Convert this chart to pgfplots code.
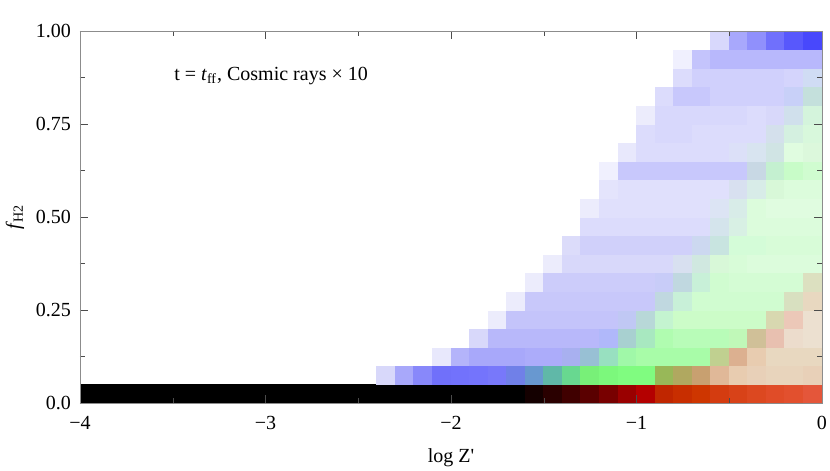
\documentclass[border=0pt]{standalone}
\usepackage{fontspec}
\setmainfont{Liberation Serif}
\usepackage{pgfplots}
\pgfplotsset{compat=1.18}

\begin{document}
\begin{tikzpicture}
\begin{axis}[
  scale only axis, width=371pt, height=186pt,
  xmin=-4, xmax=0, ymin=0, ymax=1,
  axis on top,
  axis line style={black!45},
  tick style={black!70},
  major tick length=4pt, minor tick length=2.5pt,
  tick align=inside, tick pos=both,
  xtick={-4,-3,-2,-1,0}, xticklabels={−4,−3,−2,−1,0},
  minor x tick num=1,
  ytick={0,0.25,0.5,0.75,1}, yticklabels={0.0,0.25,0.50,0.75,1.00},
  minor y tick num=1,
  xticklabel style={yshift=-3pt},
  yticklabel style={xshift=-1pt},
  xlabel={log Z\textquotesingle},
  xlabel style={at={(axis description cs:0.5,-0.148)}, anchor=center},
  ylabel={\textit{f}\textsubscript{H2}},
  ylabel style={at={(axis description cs:-0.0876,0.5)}, anchor=center},
]
\coordinate (bl) at (rel axis cs:0,0);
\coordinate (tr) at (rel axis cs:1,1);
% black part of the lowest row
\addplot[fill=black, draw=none] coordinates {(-4,0) (-2.39,0) (-2.39,0.05) (-4,0.05)} -- cycle;
% bin corners: x from -2.4 to 0 (0.1 wide), y from 0 to 1 (0.05 high);
% each colour belongs to the cell whose lower left corner is (x,y)
\addplot[surf, shader=flat corner, mesh/cols=25, mesh/color input=explicit, point meta=explicit symbolic]
table[meta=c] {
x y c
-2.4 0.00 rgb255=0,0,0
-2.3 0.00 rgb255=0,0,0
-2.2 0.00 rgb255=0,0,0
-2.1 0.00 rgb255=0,0,0
-2.0 0.00 rgb255=0,0,0
-1.9 0.00 rgb255=0,0,0
-1.8 0.00 rgb255=0,0,0
-1.7 0.00 rgb255=0,0,0
-1.6 0.00 rgb255=20,0,0
-1.5 0.00 rgb255=42,0,0
-1.4 0.00 rgb255=64,0,0
-1.3 0.00 rgb255=90,0,0
-1.2 0.00 rgb255=120,0,0
-1.1 0.00 rgb255=154,0,0
-1.0 0.00 rgb255=180,0,0
-0.9 0.00 rgb255=192,38,0
-0.8 0.00 rgb255=200,46,0
-0.7 0.00 rgb255=206,54,0
-0.6 0.00 rgb255=212,60,16
-0.5 0.00 rgb255=216,66,24
-0.4 0.00 rgb255=220,72,32
-0.3 0.00 rgb255=224,76,40
-0.2 0.00 rgb255=226,80,46
-0.1 0.00 rgb255=228,86,58
0.0 0.00 rgb255=255,255,255
-2.4 0.05 rgb255=216,216,250
-2.3 0.05 rgb255=168,168,250
-2.2 0.05 rgb255=136,136,250
-2.1 0.05 rgb255=112,112,250
-2.0 0.05 rgb255=114,114,252
-1.9 0.05 rgb255=116,116,252
-1.8 0.05 rgb255=120,120,250
-1.7 0.05 rgb255=112,128,232
-1.6 0.05 rgb255=104,152,208
-1.5 0.05 rgb255=96,184,168
-1.4 0.05 rgb255=104,216,144
-1.3 0.05 rgb255=120,240,120
-1.2 0.05 rgb255=124,248,124
-1.1 0.05 rgb255=128,252,128
-1.0 0.05 rgb255=128,252,128
-0.9 0.05 rgb255=152,184,88
-0.8 0.05 rgb255=176,168,96
-0.7 0.05 rgb255=200,160,112
-0.6 0.05 rgb255=224,184,152
-0.5 0.05 rgb255=232,204,176
-0.4 0.05 rgb255=232,208,184
-0.3 0.05 rgb255=232,212,188
-0.2 0.05 rgb255=232,212,188
-0.1 0.05 rgb255=232,208,184
0.0 0.05 rgb255=255,255,255
-2.4 0.10 rgb255=255,255,255
-2.3 0.10 rgb255=255,255,255
-2.2 0.10 rgb255=255,255,255
-2.1 0.10 rgb255=232,232,252
-2.0 0.10 rgb255=180,180,250
-1.9 0.10 rgb255=168,168,250
-1.8 0.10 rgb255=168,168,250
-1.7 0.10 rgb255=168,168,250
-1.6 0.10 rgb255=172,172,250
-1.5 0.10 rgb255=172,172,250
-1.4 0.10 rgb255=168,176,240
-1.3 0.10 rgb255=152,192,212
-1.2 0.10 rgb255=152,224,192
-1.1 0.10 rgb255=160,248,168
-1.0 0.10 rgb255=168,252,168
-0.9 0.10 rgb255=168,252,168
-0.8 0.10 rgb255=168,252,168
-0.7 0.10 rgb255=168,252,168
-0.6 0.10 rgb255=192,208,144
-0.5 0.10 rgb255=220,176,144
-0.4 0.10 rgb255=232,204,176
-0.3 0.10 rgb255=232,216,192
-0.2 0.10 rgb255=232,216,192
-0.1 0.10 rgb255=232,216,192
0.0 0.10 rgb255=255,255,255
-2.4 0.15 rgb255=255,255,255
-2.3 0.15 rgb255=255,255,255
-2.2 0.15 rgb255=255,255,255
-2.1 0.15 rgb255=255,255,255
-2.0 0.15 rgb255=255,255,255
-1.9 0.15 rgb255=216,216,250
-1.8 0.15 rgb255=184,184,250
-1.7 0.15 rgb255=184,184,250
-1.6 0.15 rgb255=184,184,250
-1.5 0.15 rgb255=184,184,250
-1.4 0.15 rgb255=184,184,250
-1.3 0.15 rgb255=184,184,250
-1.2 0.15 rgb255=176,184,250
-1.1 0.15 rgb255=168,208,208
-1.0 0.15 rgb255=168,232,192
-0.9 0.15 rgb255=176,252,176
-0.8 0.15 rgb255=184,252,184
-0.7 0.15 rgb255=184,252,184
-0.6 0.15 rgb255=184,252,184
-0.5 0.15 rgb255=192,248,184
-0.4 0.15 rgb255=208,192,152
-0.3 0.15 rgb255=232,192,176
-0.2 0.15 rgb255=236,220,204
-0.1 0.15 rgb255=236,224,208
0.0 0.15 rgb255=255,255,255
-2.4 0.20 rgb255=255,255,255
-2.3 0.20 rgb255=255,255,255
-2.2 0.20 rgb255=255,255,255
-2.1 0.20 rgb255=255,255,255
-2.0 0.20 rgb255=255,255,255
-1.9 0.20 rgb255=255,255,255
-1.8 0.20 rgb255=236,236,252
-1.7 0.20 rgb255=196,196,250
-1.6 0.20 rgb255=196,196,250
-1.5 0.20 rgb255=196,196,250
-1.4 0.20 rgb255=196,196,250
-1.3 0.20 rgb255=196,196,250
-1.2 0.20 rgb255=196,196,250
-1.1 0.20 rgb255=192,200,244
-1.0 0.20 rgb255=184,216,216
-0.9 0.20 rgb255=196,244,208
-0.8 0.20 rgb255=204,252,200
-0.7 0.20 rgb255=204,252,200
-0.6 0.20 rgb255=204,252,200
-0.5 0.20 rgb255=204,252,200
-0.4 0.20 rgb255=204,252,200
-0.3 0.20 rgb255=216,216,176
-0.2 0.20 rgb255=236,200,184
-0.1 0.20 rgb255=236,224,208
0.0 0.20 rgb255=255,255,255
-2.4 0.25 rgb255=255,255,255
-2.3 0.25 rgb255=255,255,255
-2.2 0.25 rgb255=255,255,255
-2.1 0.25 rgb255=255,255,255
-2.0 0.25 rgb255=255,255,255
-1.9 0.25 rgb255=255,255,255
-1.8 0.25 rgb255=255,255,255
-1.7 0.25 rgb255=236,236,252
-1.6 0.25 rgb255=200,200,250
-1.5 0.25 rgb255=200,200,250
-1.4 0.25 rgb255=200,200,250
-1.3 0.25 rgb255=200,200,250
-1.2 0.25 rgb255=200,200,250
-1.1 0.25 rgb255=200,200,250
-1.0 0.25 rgb255=200,200,250
-0.9 0.25 rgb255=192,216,224
-0.8 0.25 rgb255=200,240,216
-0.7 0.25 rgb255=208,252,208
-0.6 0.25 rgb255=208,252,208
-0.5 0.25 rgb255=208,252,208
-0.4 0.25 rgb255=208,252,208
-0.3 0.25 rgb255=208,252,208
-0.2 0.25 rgb255=216,224,192
-0.1 0.25 rgb255=232,216,192
0.0 0.25 rgb255=255,255,255
-2.4 0.30 rgb255=255,255,255
-2.3 0.30 rgb255=255,255,255
-2.2 0.30 rgb255=255,255,255
-2.1 0.30 rgb255=255,255,255
-2.0 0.30 rgb255=255,255,255
-1.9 0.30 rgb255=255,255,255
-1.8 0.30 rgb255=255,255,255
-1.7 0.30 rgb255=255,255,255
-1.6 0.30 rgb255=236,236,252
-1.5 0.30 rgb255=204,204,250
-1.4 0.30 rgb255=204,204,250
-1.3 0.30 rgb255=204,204,250
-1.2 0.30 rgb255=204,204,250
-1.1 0.30 rgb255=204,204,250
-1.0 0.30 rgb255=204,204,250
-0.9 0.30 rgb255=200,204,248
-0.8 0.30 rgb255=192,216,224
-0.7 0.30 rgb255=200,240,216
-0.6 0.30 rgb255=208,252,208
-0.5 0.30 rgb255=212,252,212
-0.4 0.30 rgb255=212,252,212
-0.3 0.30 rgb255=212,252,212
-0.2 0.30 rgb255=212,252,212
-0.1 0.30 rgb255=220,224,192
0.0 0.30 rgb255=255,255,255
-2.4 0.35 rgb255=255,255,255
-2.3 0.35 rgb255=255,255,255
-2.2 0.35 rgb255=255,255,255
-2.1 0.35 rgb255=255,255,255
-2.0 0.35 rgb255=255,255,255
-1.9 0.35 rgb255=255,255,255
-1.8 0.35 rgb255=255,255,255
-1.7 0.35 rgb255=255,255,255
-1.6 0.35 rgb255=255,255,255
-1.5 0.35 rgb255=236,236,252
-1.4 0.35 rgb255=216,216,250
-1.3 0.35 rgb255=216,216,250
-1.2 0.35 rgb255=216,216,250
-1.1 0.35 rgb255=216,216,250
-1.0 0.35 rgb255=216,216,250
-0.9 0.35 rgb255=216,216,250
-0.8 0.35 rgb255=216,224,240
-0.7 0.35 rgb255=208,232,224
-0.6 0.35 rgb255=216,248,216
-0.5 0.35 rgb255=216,252,216
-0.4 0.35 rgb255=220,252,220
-0.3 0.35 rgb255=220,252,220
-0.2 0.35 rgb255=220,252,220
-0.1 0.35 rgb255=220,252,220
0.0 0.35 rgb255=255,255,255
-2.4 0.40 rgb255=255,255,255
-2.3 0.40 rgb255=255,255,255
-2.2 0.40 rgb255=255,255,255
-2.1 0.40 rgb255=255,255,255
-2.0 0.40 rgb255=255,255,255
-1.9 0.40 rgb255=255,255,255
-1.8 0.40 rgb255=255,255,255
-1.7 0.40 rgb255=255,255,255
-1.6 0.40 rgb255=255,255,255
-1.5 0.40 rgb255=255,255,255
-1.4 0.40 rgb255=220,220,250
-1.3 0.40 rgb255=208,208,250
-1.2 0.40 rgb255=208,208,250
-1.1 0.40 rgb255=208,208,250
-1.0 0.40 rgb255=208,208,250
-0.9 0.40 rgb255=208,208,250
-0.8 0.40 rgb255=208,208,250
-0.7 0.40 rgb255=204,216,240
-0.6 0.40 rgb255=200,228,224
-0.5 0.40 rgb255=212,252,216
-0.4 0.40 rgb255=212,252,216
-0.3 0.40 rgb255=216,252,216
-0.2 0.40 rgb255=216,252,216
-0.1 0.40 rgb255=216,252,216
0.0 0.40 rgb255=255,255,255
-2.4 0.45 rgb255=255,255,255
-2.3 0.45 rgb255=255,255,255
-2.2 0.45 rgb255=255,255,255
-2.1 0.45 rgb255=255,255,255
-2.0 0.45 rgb255=255,255,255
-1.9 0.45 rgb255=255,255,255
-1.8 0.45 rgb255=255,255,255
-1.7 0.45 rgb255=255,255,255
-1.6 0.45 rgb255=255,255,255
-1.5 0.45 rgb255=255,255,255
-1.4 0.45 rgb255=255,255,255
-1.3 0.45 rgb255=220,220,252
-1.2 0.45 rgb255=220,220,252
-1.1 0.45 rgb255=220,220,252
-1.0 0.45 rgb255=220,220,252
-0.9 0.45 rgb255=220,220,252
-0.8 0.45 rgb255=220,220,252
-0.7 0.45 rgb255=220,220,252
-0.6 0.45 rgb255=212,228,236
-0.5 0.45 rgb255=216,240,228
-0.4 0.45 rgb255=220,252,220
-0.3 0.45 rgb255=220,252,220
-0.2 0.45 rgb255=220,252,220
-0.1 0.45 rgb255=220,252,220
0.0 0.45 rgb255=255,255,255
-2.4 0.50 rgb255=255,255,255
-2.3 0.50 rgb255=255,255,255
-2.2 0.50 rgb255=255,255,255
-2.1 0.50 rgb255=255,255,255
-2.0 0.50 rgb255=255,255,255
-1.9 0.50 rgb255=255,255,255
-1.8 0.50 rgb255=255,255,255
-1.7 0.50 rgb255=255,255,255
-1.6 0.50 rgb255=255,255,255
-1.5 0.50 rgb255=255,255,255
-1.4 0.50 rgb255=255,255,255
-1.3 0.50 rgb255=236,236,252
-1.2 0.50 rgb255=224,224,252
-1.1 0.50 rgb255=224,224,252
-1.0 0.50 rgb255=224,224,252
-0.9 0.50 rgb255=224,224,252
-0.8 0.50 rgb255=224,224,252
-0.7 0.50 rgb255=224,224,252
-0.6 0.50 rgb255=220,228,244
-0.5 0.50 rgb255=216,236,232
-0.4 0.50 rgb255=220,252,220
-0.3 0.50 rgb255=224,252,224
-0.2 0.50 rgb255=224,252,224
-0.1 0.50 rgb255=224,252,224
0.0 0.50 rgb255=255,255,255
-2.4 0.55 rgb255=255,255,255
-2.3 0.55 rgb255=255,255,255
-2.2 0.55 rgb255=255,255,255
-2.1 0.55 rgb255=255,255,255
-2.0 0.55 rgb255=255,255,255
-1.9 0.55 rgb255=255,255,255
-1.8 0.55 rgb255=255,255,255
-1.7 0.55 rgb255=255,255,255
-1.6 0.55 rgb255=255,255,255
-1.5 0.55 rgb255=255,255,255
-1.4 0.55 rgb255=255,255,255
-1.3 0.55 rgb255=255,255,255
-1.2 0.55 rgb255=228,228,252
-1.1 0.55 rgb255=224,224,252
-1.0 0.55 rgb255=224,224,252
-0.9 0.55 rgb255=224,224,252
-0.8 0.55 rgb255=224,224,252
-0.7 0.55 rgb255=224,224,252
-0.6 0.55 rgb255=224,224,252
-0.5 0.55 rgb255=216,224,240
-0.4 0.55 rgb255=216,236,232
-0.3 0.55 rgb255=216,248,216
-0.2 0.55 rgb255=220,252,220
-0.1 0.55 rgb255=220,252,220
0.0 0.55 rgb255=255,255,255
-2.4 0.60 rgb255=255,255,255
-2.3 0.60 rgb255=255,255,255
-2.2 0.60 rgb255=255,255,255
-2.1 0.60 rgb255=255,255,255
-2.0 0.60 rgb255=255,255,255
-1.9 0.60 rgb255=255,255,255
-1.8 0.60 rgb255=255,255,255
-1.7 0.60 rgb255=255,255,255
-1.6 0.60 rgb255=255,255,255
-1.5 0.60 rgb255=255,255,255
-1.4 0.60 rgb255=255,255,255
-1.3 0.60 rgb255=255,255,255
-1.2 0.60 rgb255=240,240,254
-1.1 0.60 rgb255=200,200,252
-1.0 0.60 rgb255=200,200,252
-0.9 0.60 rgb255=200,200,252
-0.8 0.60 rgb255=200,200,252
-0.7 0.60 rgb255=200,200,252
-0.6 0.60 rgb255=200,200,252
-0.5 0.60 rgb255=200,200,252
-0.4 0.60 rgb255=200,216,228
-0.3 0.60 rgb255=196,240,208
-0.2 0.60 rgb255=200,252,200
-0.1 0.60 rgb255=208,252,208
0.0 0.60 rgb255=255,255,255
-2.4 0.65 rgb255=255,255,255
-2.3 0.65 rgb255=255,255,255
-2.2 0.65 rgb255=255,255,255
-2.1 0.65 rgb255=255,255,255
-2.0 0.65 rgb255=255,255,255
-1.9 0.65 rgb255=255,255,255
-1.8 0.65 rgb255=255,255,255
-1.7 0.65 rgb255=255,255,255
-1.6 0.65 rgb255=255,255,255
-1.5 0.65 rgb255=255,255,255
-1.4 0.65 rgb255=255,255,255
-1.3 0.65 rgb255=255,255,255
-1.2 0.65 rgb255=255,255,255
-1.1 0.65 rgb255=232,232,252
-1.0 0.65 rgb255=220,220,252
-0.9 0.65 rgb255=220,220,252
-0.8 0.65 rgb255=220,220,252
-0.7 0.65 rgb255=220,220,252
-0.6 0.65 rgb255=220,220,252
-0.5 0.65 rgb255=220,224,248
-0.4 0.65 rgb255=216,228,240
-0.3 0.65 rgb255=208,228,228
-0.2 0.65 rgb255=224,252,224
-0.1 0.65 rgb255=220,248,220
0.0 0.65 rgb255=255,255,255
-2.4 0.70 rgb255=255,255,255
-2.3 0.70 rgb255=255,255,255
-2.2 0.70 rgb255=255,255,255
-2.1 0.70 rgb255=255,255,255
-2.0 0.70 rgb255=255,255,255
-1.9 0.70 rgb255=255,255,255
-1.8 0.70 rgb255=255,255,255
-1.7 0.70 rgb255=255,255,255
-1.6 0.70 rgb255=255,255,255
-1.5 0.70 rgb255=255,255,255
-1.4 0.70 rgb255=255,255,255
-1.3 0.70 rgb255=255,255,255
-1.2 0.70 rgb255=255,255,255
-1.1 0.70 rgb255=255,255,255
-1.0 0.70 rgb255=220,220,252
-0.9 0.70 rgb255=216,216,252
-0.8 0.70 rgb255=216,216,252
-0.7 0.70 rgb255=220,220,252
-0.6 0.70 rgb255=220,220,252
-0.5 0.70 rgb255=220,220,252
-0.4 0.70 rgb255=220,220,252
-0.3 0.70 rgb255=212,224,236
-0.2 0.70 rgb255=212,240,224
-0.1 0.70 rgb255=216,248,220
0.0 0.70 rgb255=255,255,255
-2.4 0.75 rgb255=255,255,255
-2.3 0.75 rgb255=255,255,255
-2.2 0.75 rgb255=255,255,255
-2.1 0.75 rgb255=255,255,255
-2.0 0.75 rgb255=255,255,255
-1.9 0.75 rgb255=255,255,255
-1.8 0.75 rgb255=255,255,255
-1.7 0.75 rgb255=255,255,255
-1.6 0.75 rgb255=255,255,255
-1.5 0.75 rgb255=255,255,255
-1.4 0.75 rgb255=255,255,255
-1.3 0.75 rgb255=255,255,255
-1.2 0.75 rgb255=255,255,255
-1.1 0.75 rgb255=255,255,255
-1.0 0.75 rgb255=236,236,252
-0.9 0.75 rgb255=216,216,252
-0.8 0.75 rgb255=216,216,252
-0.7 0.75 rgb255=216,216,252
-0.6 0.75 rgb255=216,216,252
-0.5 0.75 rgb255=216,216,252
-0.4 0.75 rgb255=220,220,252
-0.3 0.75 rgb255=216,216,250
-0.2 0.75 rgb255=208,224,236
-0.1 0.75 rgb255=212,244,220
0.0 0.75 rgb255=255,255,255
-2.4 0.80 rgb255=255,255,255
-2.3 0.80 rgb255=255,255,255
-2.2 0.80 rgb255=255,255,255
-2.1 0.80 rgb255=255,255,255
-2.0 0.80 rgb255=255,255,255
-1.9 0.80 rgb255=255,255,255
-1.8 0.80 rgb255=255,255,255
-1.7 0.80 rgb255=255,255,255
-1.6 0.80 rgb255=255,255,255
-1.5 0.80 rgb255=255,255,255
-1.4 0.80 rgb255=255,255,255
-1.3 0.80 rgb255=255,255,255
-1.2 0.80 rgb255=255,255,255
-1.1 0.80 rgb255=255,255,255
-1.0 0.80 rgb255=255,255,255
-0.9 0.80 rgb255=220,220,252
-0.8 0.80 rgb255=200,200,252
-0.7 0.80 rgb255=200,200,252
-0.6 0.80 rgb255=208,208,252
-0.5 0.80 rgb255=208,208,252
-0.4 0.80 rgb255=208,208,252
-0.3 0.80 rgb255=208,208,252
-0.2 0.80 rgb255=200,208,248
-0.1 0.80 rgb255=196,224,220
0.0 0.80 rgb255=255,255,255
-2.4 0.85 rgb255=255,255,255
-2.3 0.85 rgb255=255,255,255
-2.2 0.85 rgb255=255,255,255
-2.1 0.85 rgb255=255,255,255
-2.0 0.85 rgb255=255,255,255
-1.9 0.85 rgb255=255,255,255
-1.8 0.85 rgb255=255,255,255
-1.7 0.85 rgb255=255,255,255
-1.6 0.85 rgb255=255,255,255
-1.5 0.85 rgb255=255,255,255
-1.4 0.85 rgb255=255,255,255
-1.3 0.85 rgb255=255,255,255
-1.2 0.85 rgb255=255,255,255
-1.1 0.85 rgb255=255,255,255
-1.0 0.85 rgb255=255,255,255
-0.9 0.85 rgb255=255,255,255
-0.8 0.85 rgb255=220,220,252
-0.7 0.85 rgb255=208,208,252
-0.6 0.85 rgb255=208,208,252
-0.5 0.85 rgb255=208,208,252
-0.4 0.85 rgb255=208,208,252
-0.3 0.85 rgb255=208,208,252
-0.2 0.85 rgb255=212,212,252
-0.1 0.85 rgb255=208,220,244
0.0 0.85 rgb255=255,255,255
-2.4 0.90 rgb255=255,255,255
-2.3 0.90 rgb255=255,255,255
-2.2 0.90 rgb255=255,255,255
-2.1 0.90 rgb255=255,255,255
-2.0 0.90 rgb255=255,255,255
-1.9 0.90 rgb255=255,255,255
-1.8 0.90 rgb255=255,255,255
-1.7 0.90 rgb255=255,255,255
-1.6 0.90 rgb255=255,255,255
-1.5 0.90 rgb255=255,255,255
-1.4 0.90 rgb255=255,255,255
-1.3 0.90 rgb255=255,255,255
-1.2 0.90 rgb255=255,255,255
-1.1 0.90 rgb255=255,255,255
-1.0 0.90 rgb255=255,255,255
-0.9 0.90 rgb255=255,255,255
-0.8 0.90 rgb255=240,240,254
-0.7 0.90 rgb255=196,196,252
-0.6 0.90 rgb255=184,184,252
-0.5 0.90 rgb255=184,184,252
-0.4 0.90 rgb255=184,184,252
-0.3 0.90 rgb255=184,184,252
-0.2 0.90 rgb255=184,184,252
-0.1 0.90 rgb255=184,184,252
0.0 0.90 rgb255=255,255,255
-2.4 0.95 rgb255=255,255,255
-2.3 0.95 rgb255=255,255,255
-2.2 0.95 rgb255=255,255,255
-2.1 0.95 rgb255=255,255,255
-2.0 0.95 rgb255=255,255,255
-1.9 0.95 rgb255=255,255,255
-1.8 0.95 rgb255=255,255,255
-1.7 0.95 rgb255=255,255,255
-1.6 0.95 rgb255=255,255,255
-1.5 0.95 rgb255=255,255,255
-1.4 0.95 rgb255=255,255,255
-1.3 0.95 rgb255=255,255,255
-1.2 0.95 rgb255=255,255,255
-1.1 0.95 rgb255=255,255,255
-1.0 0.95 rgb255=255,255,255
-0.9 0.95 rgb255=255,255,255
-0.8 0.95 rgb255=255,255,255
-0.7 0.95 rgb255=255,255,255
-0.6 0.95 rgb255=216,216,252
-0.5 0.95 rgb255=168,168,252
-0.4 0.95 rgb255=144,144,252
-0.3 0.95 rgb255=112,112,252
-0.2 0.95 rgb255=88,88,252
-0.1 0.95 rgb255=72,72,252
0.0 0.95 rgb255=255,255,255
-2.4 1.00 rgb255=255,255,255
-2.3 1.00 rgb255=255,255,255
-2.2 1.00 rgb255=255,255,255
-2.1 1.00 rgb255=255,255,255
-2.0 1.00 rgb255=255,255,255
-1.9 1.00 rgb255=255,255,255
-1.8 1.00 rgb255=255,255,255
-1.7 1.00 rgb255=255,255,255
-1.6 1.00 rgb255=255,255,255
-1.5 1.00 rgb255=255,255,255
-1.4 1.00 rgb255=255,255,255
-1.3 1.00 rgb255=255,255,255
-1.2 1.00 rgb255=255,255,255
-1.1 1.00 rgb255=255,255,255
-1.0 1.00 rgb255=255,255,255
-0.9 1.00 rgb255=255,255,255
-0.8 1.00 rgb255=255,255,255
-0.7 1.00 rgb255=255,255,255
-0.6 1.00 rgb255=255,255,255
-0.5 1.00 rgb255=255,255,255
-0.4 1.00 rgb255=255,255,255
-0.3 1.00 rgb255=255,255,255
-0.2 1.00 rgb255=255,255,255
-0.1 1.00 rgb255=255,255,255
0.0 1.00 rgb255=255,255,255
};
\node[anchor=west] at (axis cs:-3.53,0.88) {t = \textit{t}\textsubscript{ff}, Cosmic rays × 10};
\end{axis}
\pgfresetboundingbox
\path ([shift={(-40pt,-34pt)}]bl) rectangle ([shift={(4pt,15.5pt)}]tr);
\end{tikzpicture}
\end{document}
